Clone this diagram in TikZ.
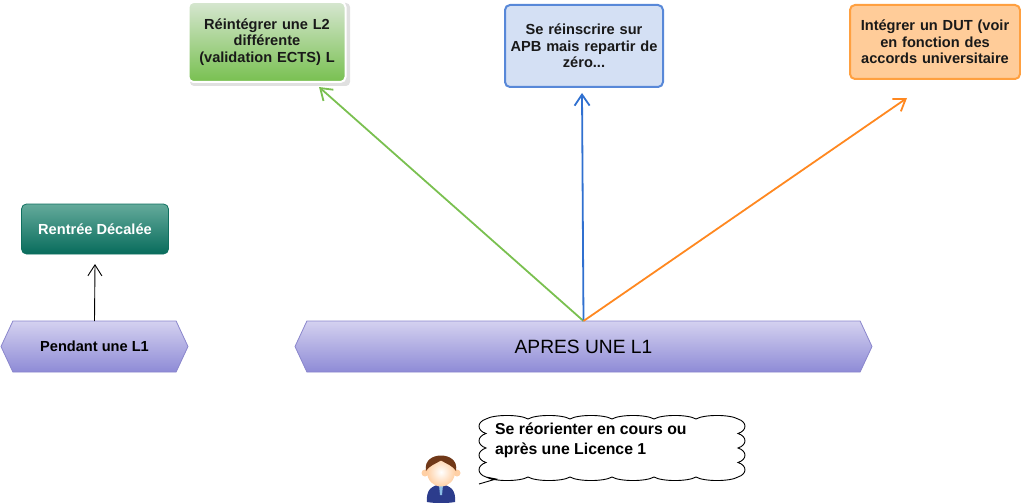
\documentclass[tikz,border=0pt]{standalone}
\usepackage{fontspec}
\setmainfont{Liberation Sans}
\usetikzlibrary{shapes.symbols,arrows.meta}
\definecolor{hexline}{HTML}{8A86CC}
\definecolor{hextop}{HTML}{D4D1F0}
\definecolor{hexbot}{HTML}{8E8BD6}
\definecolor{greentop}{RGB}{214,230,208}
\definecolor{greenbot}{RGB}{120,192,80}
\definecolor{blueline}{RGB}{88,136,216}
\definecolor{bluefill}{RGB}{212,224,244}
\definecolor{orangeline}{RGB}{255,160,64}
\definecolor{orangefill}{RGB}{255,204,153}
\definecolor{tealline}{RGB}{16,112,96}
\definecolor{tealtop}{RGB}{100,170,155}
\definecolor{tealbot}{RGB}{8,108,92}
\definecolor{arrgreen}{RGB}{122,192,80}
\definecolor{arrblue}{RGB}{48,112,208}
\definecolor{arrorange}{RGB}{255,136,32}
\definecolor{suit}{RGB}{44,60,140}
\definecolor{tie}{RGB}{140,190,230}
\definecolor{skin}{RGB}{255,208,165}
\definecolor{hair}{RGB}{112,56,24}
\tikzset{
  x=1pt,y=-1pt,
  hexbox/.style={signal,signal to=west and east,signal pointer angle=130,draw=hexline,line width=.8pt,
    top color=hextop,bottom color=hexbot,minimum height=51pt,inner sep=0pt,outer sep=0pt,text=black},
  tbox/.style={rounded corners=5pt,align=center,inner sep=0pt,outer sep=0pt,font=\fontsize{14.6}{16.5}\selectfont\bfseries,text=black!90},
  conn/.style={line width=1.8pt,-{Straight Barb[length=11pt,width=15pt,line width=1.8pt]}},
}
\begin{document}
\begin{tikzpicture}
\useasboundingbox (0,0) rectangle (1021,503);
% boxes
\fill[black!12,rounded corners=4pt] (190,3) rectangle (350,86);
\node[tbox,draw=white,line width=2pt,top color=greentop,bottom color=greenbot,
  minimum width=157pt,minimum height=80pt,text width=150pt] (green) at (267,42) {Réintégrer une L2\\différente\\(validation ECTS) L};
\node[tbox,draw=blueline,line width=2pt,fill=bluefill,
  minimum width=158pt,minimum height=82pt,text width=150pt] (blue) at (584,46) {Se réinscrire sur\\APB mais repartir de\\zéro...};
\node[tbox,draw=orangeline,line width=2pt,fill=orangefill,
  minimum width=170pt,minimum height=74pt,text width=165pt] (orange) at (935,42) {Intégrer un DUT (voir\\en fonction des\\accords universitaire};
\node[tbox,draw=tealline,line width=.8pt,top color=tealtop,bottom color=tealbot,
  minimum width=147pt,minimum height=50pt,text=white] (teal) at (95,229) {Rentrée Décalée};
% hexagons
\node[hexbox,minimum width=187pt,font=\fontsize{14.6}{16}\selectfont\bfseries] (l1) at (94.5,346.5) {Pendant une L1};
\node[hexbox,minimum width=577pt,font=\fontsize{19.2}{22}\selectfont] (apres) at (583.5,346.5) {APRES UNE L1};
% connectors
\coordinate (gtip) at (319,87);
\coordinate (btip) at (582,93);
\coordinate (otip) at (907,98);
\coordinate (ttip) at (95,264);
\draw[conn,color=arrgreen] (apres.north) -- (gtip);
\draw[conn,color=arrblue] (apres.north) -- (btip);
\draw[conn,color=arrorange] (apres.north) -- (otip);
\draw[line width=.9pt,-{Straight Barb[length=11pt,width=14pt,line width=.9pt]}] (l1.north) -- (ttip);
% speech bubble
\draw[line width=.9pt,fill=white]
  (479,484) -- (496,479) -- (486,477)
  \foreach \i in {1,...,6}{ .. controls ({486+(\i-1)*42+8},{481.7}) and ({486+(\i-1)*42+34},{481.7}) .. ({486+\i*42},477) }
  \foreach \i in {1,...,4}{ .. controls (747.3,{477-(\i-1)*14.5-3}) and (747.3,{477-(\i-1)*14.5-11.5}) .. (738,{477-\i*14.5}) }
  \foreach \i in {1,...,6}{ .. controls ({738-(\i-1)*42-8},414.3) and ({738-(\i-1)*42-34},414.3) .. ({738-\i*42},419) }
  \foreach \i in {1,...,4}{ .. controls (476.7,{419+(\i-1)*14.5+3}) and (476.7,{419+(\i-1)*14.5+11.5}) .. (486,{419+\i*14.5}) }
  ;
\node[anchor=west,align=left,inner sep=0pt,font=\fontsize{15.8}{20}\selectfont\bfseries] (say) at (495,440.5) {Se réorienter en cours ou\\après une Licence 1};
% person
\fill[suit] (427,502) .. controls (426,490) and (431,486) .. (441,484) .. controls (451,486) and (456,490) .. (455,502) .. controls (446,503.5) and (436,503.5) .. (427,502) -- cycle;
\fill[tie] (439,485) -- (443,485) -- (442,495) -- (440,495) -- cycle;
\fill[skin] (425,473) circle (3.5);
\fill[skin] (457,473) circle (3.5);
\shade[inner color=white,outer color=skin] (441,472) ellipse (14 and 14.5);
\fill[hair] (426,471) .. controls (424,460) and (433,455.5) .. (441,455.5) .. controls (449,455.5) and (458,460) .. (456,471) .. controls (453,466) and (447,464) .. (441,460.5) .. controls (435,464) and (429,466) .. (426,471) -- cycle;
\end{tikzpicture}
\end{document}
